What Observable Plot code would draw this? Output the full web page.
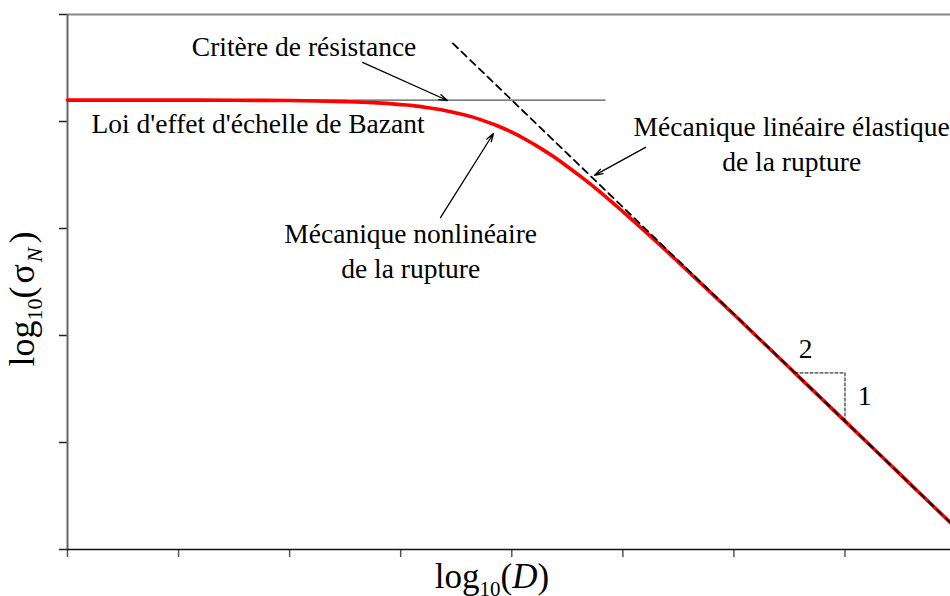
<!DOCTYPE html>
<html><head><meta charset="utf-8">
<script src="https://cdn.jsdelivr.net/npm/d3@7"></script>
<script src="https://cdn.jsdelivr.net/npm/@observablehq/plot@0.6"></script>
<style>
html,body{margin:0;padding:0;background:#fff;}
svg{font-family:"Liberation Serif","Times New Roman",serif;}
</style></head><body><div id="chart"></div>
<script>
// tick positions (unlabelled in the reference)
const xTicks = [0, 1, 2, 3, 4, 5, 6, 7];
const yTicks = [0, 0.5, 1, 1.5, 2, 2.5];

// Bazant size-effect curve
const curveX = [0, 0.5, 1, 1.5, 2, 2.5, 2.75, 3, 3.125, 3.25, 3.375, 3.5, 3.625, 3.75, 3.875, 4, 4.125, 4.25, 4.375, 4.5, 4.625, 4.75, 5, 5.25, 5.5, 6, 6.5, 7, 7.5, 7.95];
const curveY = [2.100, 2.100, 2.100, 2.099, 2.098, 2.093, 2.088, 2.079, 2.073, 2.064, 2.054, 2.040, 2.024, 2.003, 1.979, 1.950, 1.916, 1.878, 1.836, 1.790, 1.741, 1.690, 1.579, 1.463, 1.343, 1.098, 0.849, 0.600, 0.350, 0.125];

// LEFM asymptote (dashed)
const asymX = [3.47, 7.95];
const asymY = [2.365, 0.125];

// strength criterion (horizontal)
const critX = [0, 4.84];
const critY = [2.1, 2.1];

// slope triangle 2:1
const triX = [6.55, 7.0, 7.0];
const triY = [0.825, 0.825, 0.6];

// annotation texts
const midTexts = ["Critère de résistance", "Mécanique nonlinéaire\nde la rupture", "Mécanique linéaire élastique\nde la rupture", "2", "1"];
const midTextX = [2.13, 3.09, 6.52, 6.645, 7.176];
const midTextY = [2.308, 1.271, 1.771, 0.893, 0.673];
const startTexts = ["Loi d'effet d'échelle de Bazant"];
const startTextX = [0.216];
const startTextY = [1.944];

// annotation arrows
const arrowX1 = [2.656, 3.358, 5.204];
const arrowY1 = [2.276, 1.551, 1.879];
const arrowX2 = [3.421, 3.835, 4.745];
const arrowY2 = [2.098, 1.944, 1.748];

const zip = (xs, ys) => xs.map((x, i) => ({x, y: ys[i]}));
const curve = zip(curveX, curveY);
const asym = zip(asymX, asymY);
const crit = zip(critX, critY);
const tri = zip(triX, triY);
const midLabels = midTexts.map((t, i) => ({t, x: midTextX[i], y: midTextY[i]}));
const startLabels = startTexts.map((t, i) => ({t, x: startTextX[i], y: startTextY[i]}));
const arrows = arrowX1.map((x1, i) => ({x1, y1: arrowY1[i], x2: arrowX2[i], y2: arrowY2[i]}));

const FONT = '"Liberation Serif","Times New Roman",serif';

const chart = Plot.plot({
  width: 950, height: 596,
  marginLeft: 67, marginRight: 0, marginTop: 14, marginBottom: 47,
  style: {fontFamily: FONT, background: "white", overflow: "visible"},
  x: {domain: [0, 7.95]},
  y: {domain: [0, 2.5]},
  marks: [
    Plot.axisX({ticks: xTicks, tickSize: 8, tickFormat: () => "", label: null, stroke: "#555", strokeWidth: 1.5}),
    Plot.axisY({ticks: yTicks, tickSize: 8, tickFormat: () => "", label: null, stroke: "#222", strokeWidth: 1.5}),
    Plot.ruleY([2.5], {stroke: "#888", strokeWidth: 2}),
    Plot.ruleX([0], {stroke: "#666", strokeWidth: 2}),
    Plot.ruleY([0], {stroke: "#111", strokeWidth: 1.5}),
    Plot.line(crit, {x: "x", y: "y", stroke: "#555", strokeWidth: 1.3}),
    Plot.line(curve, {x: "x", y: "y", stroke: "#ff0000", strokeWidth: 3.6, curve: "monotone-x"}),
    Plot.line(asym, {x: "x", y: "y", stroke: "#000", strokeWidth: 1.8, strokeDasharray: "7,5"}),
    Plot.line(tri, {x: "x", y: "y", stroke: "#000", strokeWidth: 1, strokeDasharray: "3,2"}),
    Plot.arrow(arrows, {x1: "x1", y1: "y1", x2: "x2", y2: "y2", bend: 0, headLength: 10, headAngle: 35, stroke: "#000", strokeWidth: 1.3}),
    Plot.text(midLabels, {x: "x", y: "y", text: "t", textAnchor: "middle", lineAnchor: "bottom", lineHeight: 1.25, fontSize: 27.5, fill: "#000"}),
    Plot.text(startLabels, {x: "x", y: "y", text: "t", textAnchor: "start", lineAnchor: "bottom", lineHeight: 1.25, fontSize: 27.5, fill: "#000"})
  ]
});
document.getElementById("chart").appendChild(chart);

// axis titles with subscripts / italics
const svg = d3.select(chart);
const xl = svg.append("text").attr("x", 492).attr("y", 588).attr("text-anchor", "middle")
  .attr("font-size", 35).attr("fill", "#000").attr("font-family", FONT);
xl.append("tspan").text("log");
xl.append("tspan").attr("font-size", 21).attr("dy", 8).text("10");
xl.append("tspan").attr("dy", -8).text("(");
xl.append("tspan").attr("font-style", "italic").text("D");
xl.append("tspan").text(")");

const yl = svg.append("text").attr("transform", "translate(34,299) rotate(-90)").attr("text-anchor", "middle")
  .attr("font-size", 36).attr("fill", "#000").attr("font-family", FONT);
yl.append("tspan").text("log");
yl.append("tspan").attr("font-size", 22).attr("dy", 8).text("10");
yl.append("tspan").attr("dy", -8).text("(");
yl.append("tspan").attr("dx", 3).text("σ");
yl.append("tspan").attr("font-size", 22).attr("font-style", "italic").attr("dy", 8).attr("dx", 2).text("N");
yl.append("tspan").attr("dy", -8).attr("dx", 4).text(")");
</script></body></html>
